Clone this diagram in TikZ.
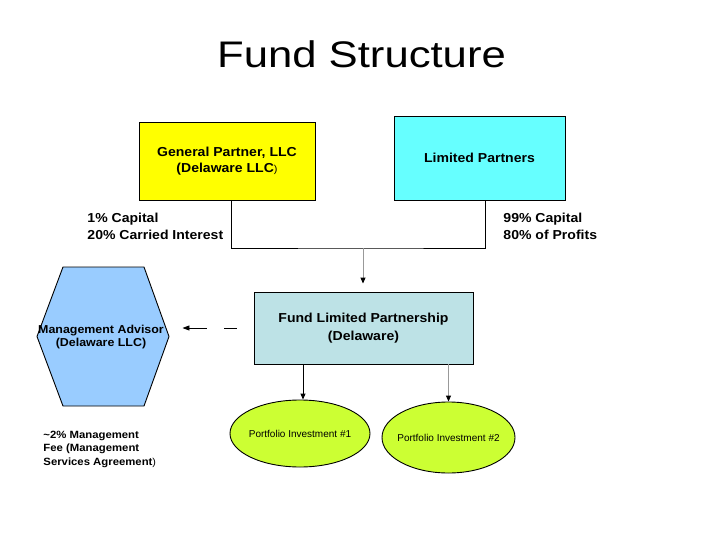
\documentclass[tikz,border=0pt]{standalone}
\usepackage{fontspec}
\setmainfont{Liberation Sans}
\newfontfamily\wf[FakeStretch=1.08]{Liberation Sans}
\newfontfamily\tf[FakeStretch=1.18]{Liberation Sans}
\usetikzlibrary{shapes.geometric,arrows.meta}
\definecolor{gpyellow}{HTML}{FFFF00}
\definecolor{lpcyan}{HTML}{66FFFF}
\definecolor{fundblue}{HTML}{BDE2E6}
\definecolor{hexblue}{HTML}{99CCFF}
\definecolor{invgreen}{HTML}{CCFF33}
\definecolor{lgray}{HTML}{999999}
\newcommand\smallparen{{\mdseries\fontsize{10}{10}\selectfont)}}
\begin{document}
\begin{tikzpicture}[x=1pt,y=-1pt,line width=0.9pt,
  entity/.style={draw=black,inner sep=0pt,align=center,font=\wf\bfseries\fontsize{13}{16}\selectfont},
  invest/.style={ellipse,draw=black,fill=invgreen,inner sep=0pt,font=\fontsize{10}{12}\selectfont},
  lbl/.style={anchor=north west,inner sep=0pt,align=left,font=\wf\bfseries\fontsize{13}{17.5}\selectfont},
  tip/.style={-{Triangle[length=6pt,width=5pt,black]}}]
\useasboundingbox (0,0) rectangle (728,546);
\fill[white] (0,0) rectangle (728,546);
% title
\node[anchor=base,inner sep=0pt,font=\tf\fontsize{37}{40}\selectfont] (title) at (361.5,67) {Fund Structure};
% boxes
\node[entity,fill=gpyellow,minimum width=176pt,minimum height=78pt] (gp) at (227,161) {General Partner, LLC\\(Delaware LLC\smallparen};
\node[entity,fill=lpcyan,minimum width=171pt,minimum height=84pt] (lp) at (479.5,158) {Limited Partners};
\node[entity,fill=fundblue,minimum width=219pt,minimum height=72pt] (fund) at (363.5,328) {Fund Limited Partnership\\[2pt](Delaware)};
% hexagon
\draw[fill=hexblue] (63,267) -- (144,267) -- (169,336.5) -- (144,406) -- (63,406) -- (37,336.5) -- cycle;
\node[inner sep=0pt,align=center,minimum width=132pt,minimum height=139pt,font=\wf\bfseries\fontsize{11.5}{13}\selectfont] (ma) at (101,337) {Management Advisor\\(Delaware LLC)};
% investments
\node[invest,minimum width=140pt,minimum height=67pt] (p1) at (300,433.5) {\makebox[0pt]{Portfolio Investment \#1}};
\node[invest,minimum width=133pt,minimum height=71pt] (p2) at (448.5,437.5) {\makebox[0pt]{Portfolio Investment \#2}};
% labels
\node[lbl] (gplbl) at (87,212.5) {1\% Capital\\20\% Carried Interest};
\node[lbl] (lplbl) at (503,212.5) {99\% Capital\\80\% of Profits};
\node[lbl,font=\wf\bfseries\fontsize{10.5}{13.5}\selectfont] (fee) at (43,430.3) {\textasciitilde 2\% Management\\Fee (Management\\Services Agreement\smallparen};
% connectors
\coordinate (j) at (363,248);
\draw ([xshift=4pt]gp.south) |- (j) -| ([xshift=5.5pt]lp.south);
\draw[lgray,tip,shorten >=8pt] (j) -- (j |- fund.north);
\draw[tip] ([xshift=-60.5pt]fund.south) -- ([xshift=-60.5pt]fund.south |- p1.north);
\draw[lgray,tip] (fund.south -| p2.north) -- (p2.north);
\draw[-{Triangle[length=7pt,width=5pt]},dash pattern=on 0pt off 17pt on 13pt off 17pt on 40pt,shorten >=15pt] (fund.west) -- (fund.west -| ma.east);
\end{tikzpicture}
\end{document}
